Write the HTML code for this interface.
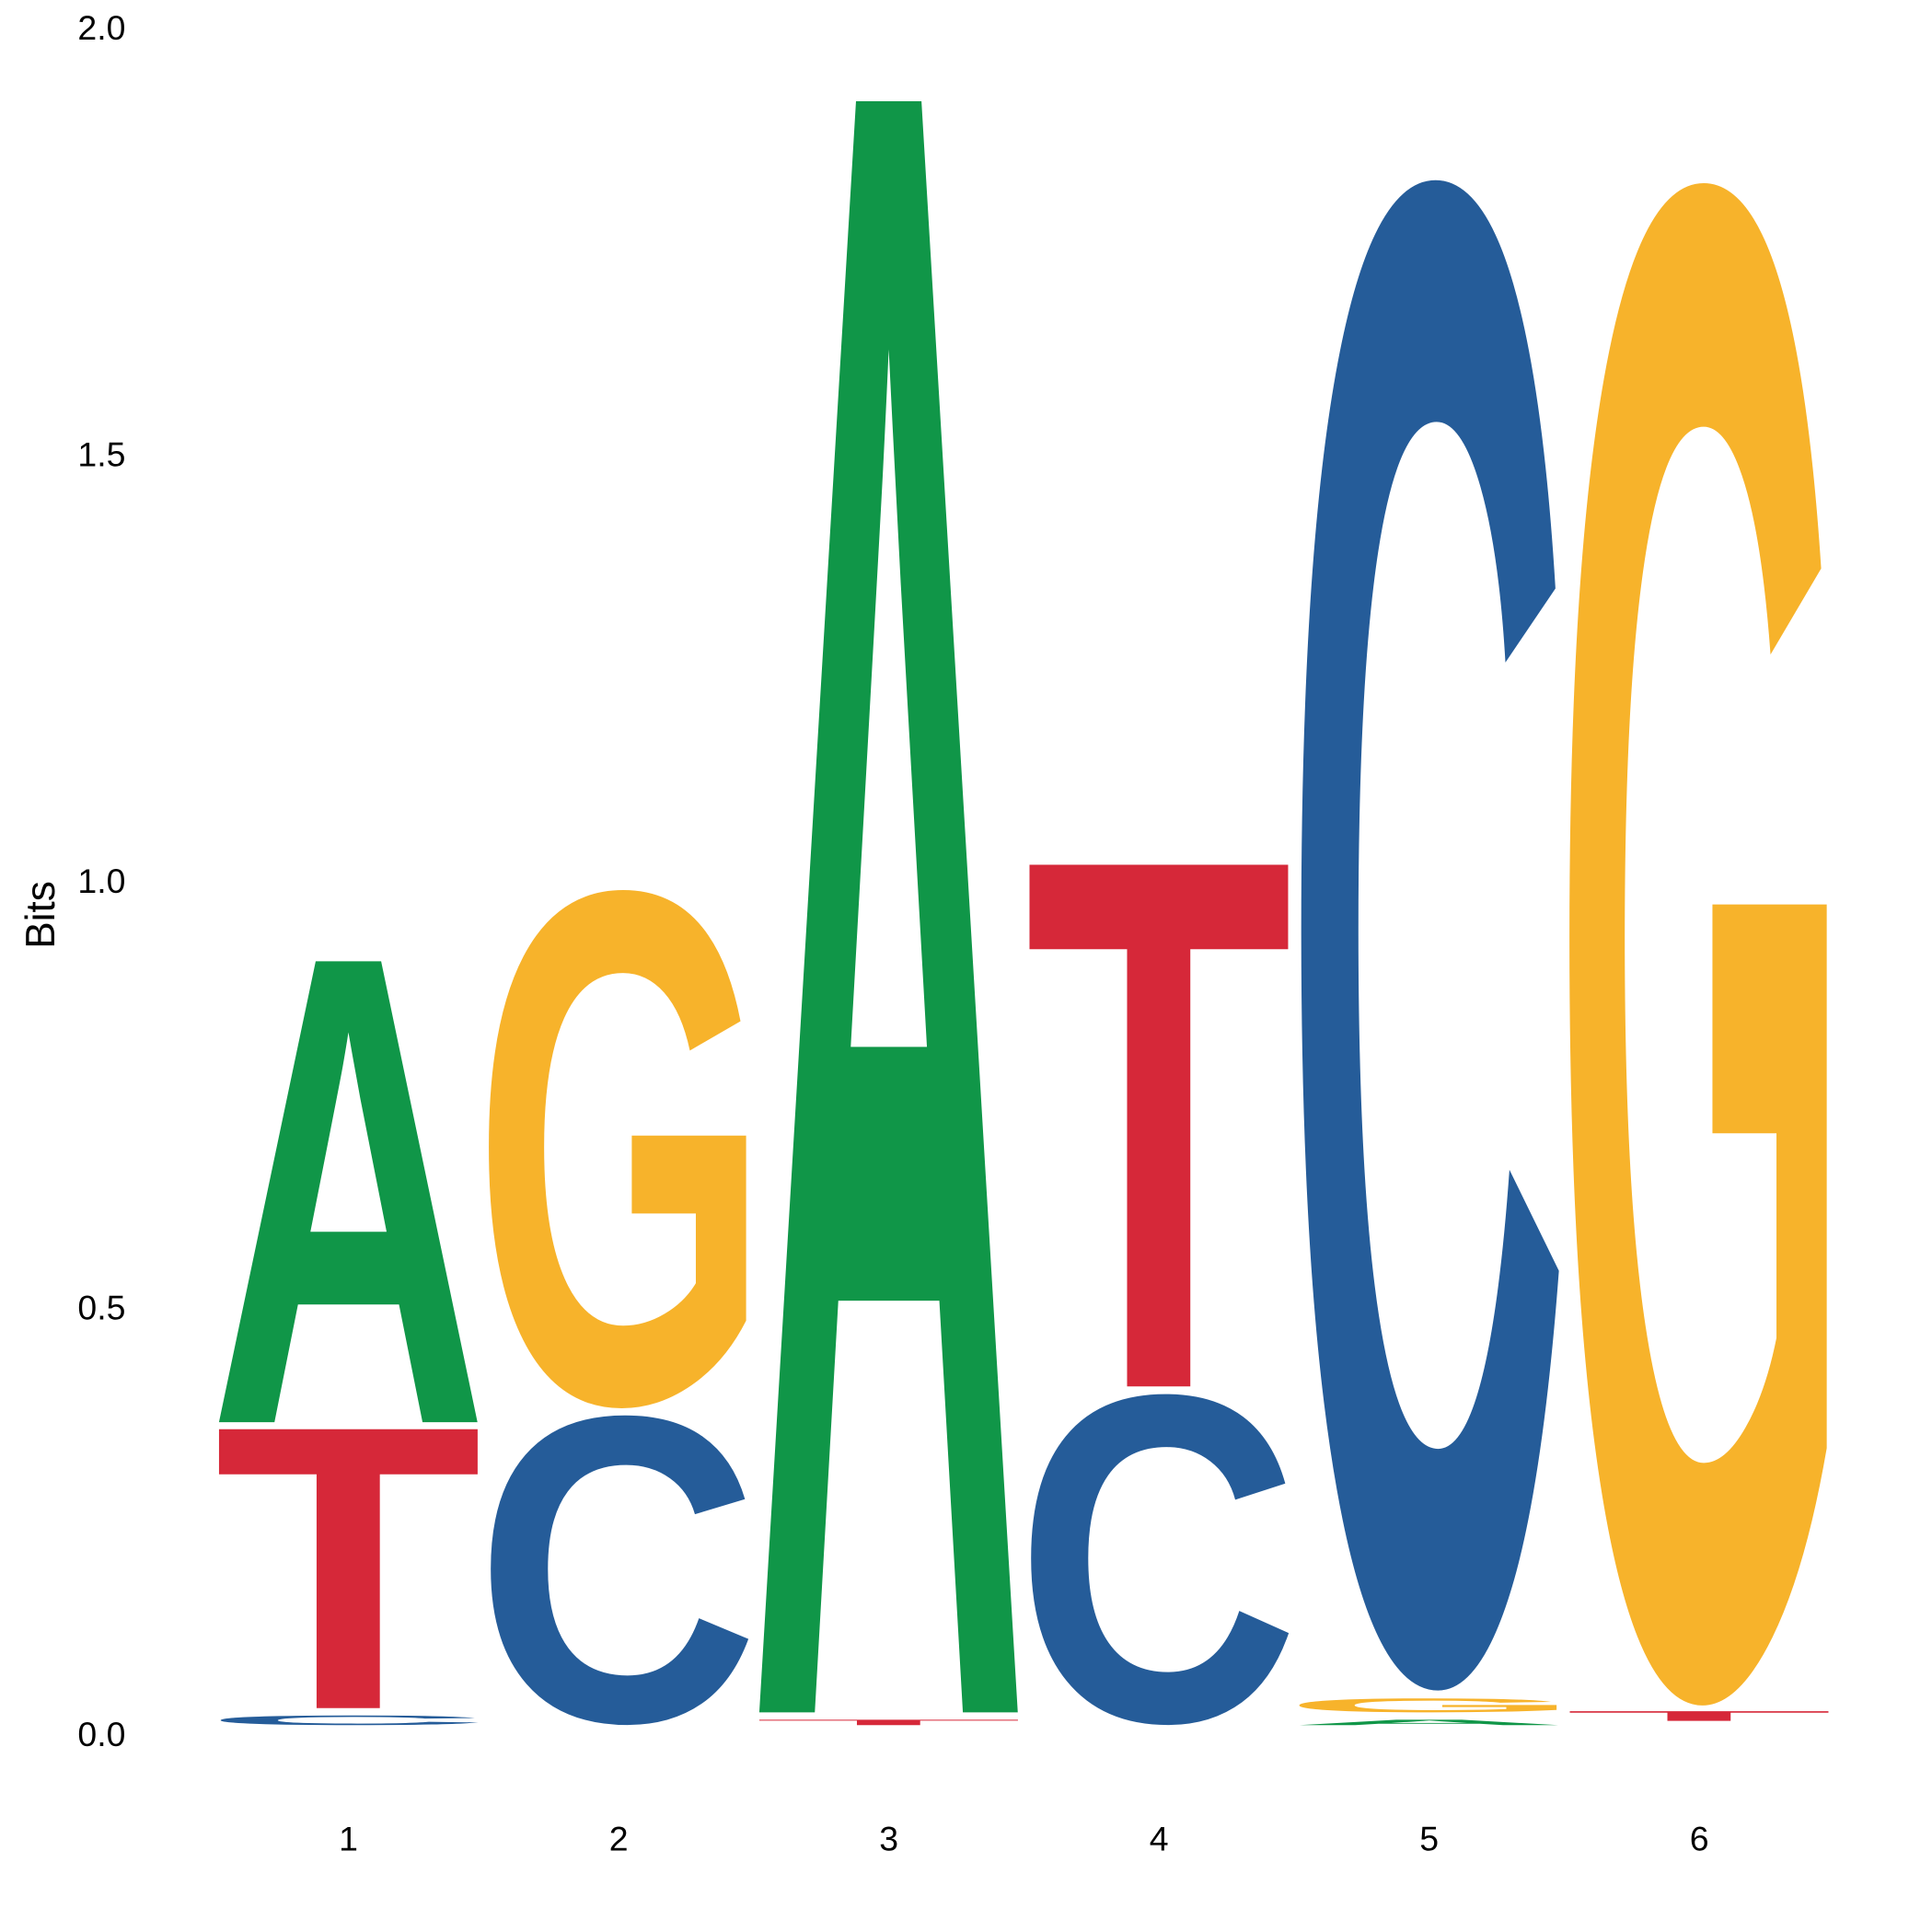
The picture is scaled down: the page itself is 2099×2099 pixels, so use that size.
<!DOCTYPE html>
<html><head><meta charset="utf-8">
<style>html,body{margin:0;padding:0;background:#fff;overflow:hidden;width:2099px;height:2099px}svg{display:block;overflow:hidden}</style>
</head><body>
<svg id="chart" width="2099" height="2099" viewBox="0 0 1569 1569" xmlns="http://www.w3.org/2000/svg">
<g id="yaxis"></g>
<g id="xaxis"></g>
<g id="letters"></g>
<text transform="translate(44,743) rotate(-90)" text-anchor="middle" font-family="Liberation Sans, sans-serif" font-size="33" fill="#000">Bits</text>
</svg>
<script>
// data (bottom to top per position)
const positions = [1, 2, 3, 4, 5, 6];
const stackLetters = [
  ['C','T','A'],
  ['C','G'],
  ['T','A'],
  ['C','T'],
  ['A','G','C'],
  ['C','T','G']
];
const stackHeights = [
  [0.02, 0.335, 0.548],
  [0.372, 0.615],
  [0.015, 1.894],
  [0.397, 0.619],
  [0.015, 0.025, 1.781],
  [0.005, 0.02, 1.79]
];
const yTicks = [0, 0.5, 1.0, 1.5, 2.0];
const yTickLabels = ['0.0','0.5','1.0','1.5','2.0'];

const colors = {A:'#109648', C:'#255C99', G:'#F7B32B', T:'#D62839'};
// empirically calibrated glyph ink bounds (per 1000 em): [xMin, xMax, yMin, yMax]
const glyphBox = {A:[27,695,0,687], C:[39,692,-10,699], G:[44,719,-9,698], T:[13,599,0,687]};
const NS = 'http://www.w3.org/2000/svg';
const y = v => 1408 - v * 693;
const yL = v => 1401 - v * 693;
const xc = p => 283 + (p - 1) * 219.4;
const halfW = 104.5;

const yaxis = document.getElementById('yaxis');
yTicks.forEach((v, i) => {
  const t = document.createElementNS(NS, 'text');
  
  
  t.setAttribute('x', 102); t.setAttribute('y', y(v) + 10);
  t.setAttribute('text-anchor', 'end');
  t.setAttribute('font-family', 'Liberation Sans, sans-serif');
  t.setAttribute('font-size', '28');
  t.textContent = yTickLabels[i];
  yaxis.appendChild(t);
});
const xaxis = document.getElementById('xaxis');
positions.forEach(p => {
  const t = document.createElementNS(NS, 'text');
  
  
  t.setAttribute('x', xc(p)); t.setAttribute('y', 1503);
  t.setAttribute('text-anchor', 'middle');
  t.setAttribute('font-family', 'Liberation Sans, sans-serif');
  t.setAttribute('font-size', '28');
  t.textContent = String(p);
  xaxis.appendChild(t);
});

const lg = document.getElementById('letters');
positions.forEach((p, i) => {
  let base = 0;
  stackLetters[i].forEach((L, j) => {
    const h = stackHeights[i][j];
    const yb = yL(base), yt = yL(base + h) + 6;
    base += h;
    if (yb - yt < 0.5) return;
    const x0 = xc(p) - halfW, x1 = xc(p) + halfW;
    const b = glyphBox[L];
    const abl = -b[0] / 10, abr = b[1] / 10, asc = b[3] / 10, desc = -b[2] / 10;
    const sx = (x1 - x0) / (abr + abl), sy = (yb - yt) / (asc + desc);
    const t = document.createElementNS(NS, 'text');
    
    
    t.setAttribute('x', 0); t.setAttribute('y', 0);
    t.setAttribute('font-family', 'Liberation Sans, sans-serif');
    t.setAttribute('font-weight', 'bold');
    t.setAttribute('font-size', '100');
    t.setAttribute('fill', colors[L]);
    t.setAttribute('transform', `translate(${x0 + abl * sx},${yt + asc * sy}) scale(${sx},${sy})`);
    t.textContent = L;
    lg.appendChild(t);
  });
});
</script>
</body></html>
